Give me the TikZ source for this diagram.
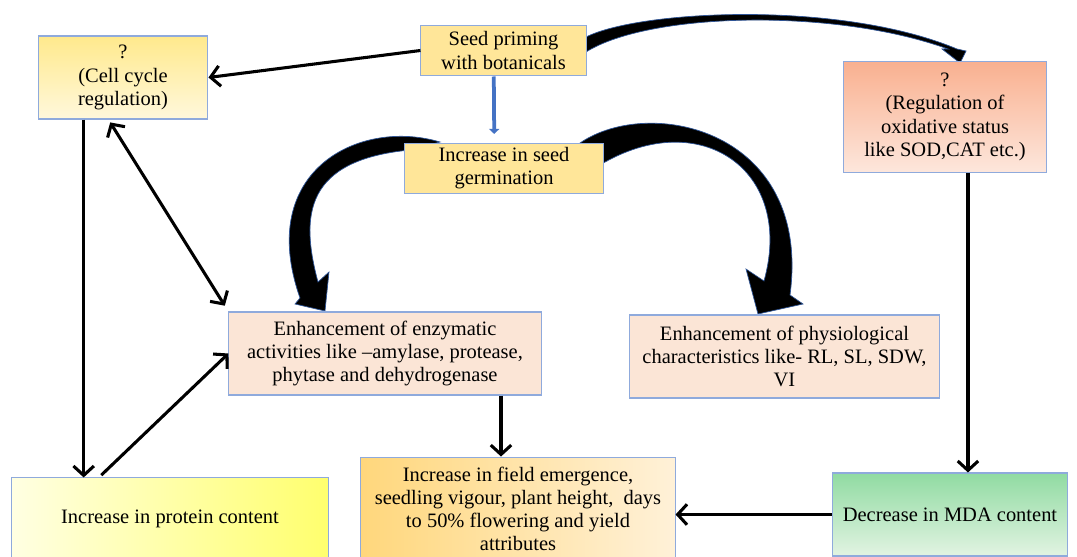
\documentclass[tikz,border=0pt]{standalone}
\usepackage{fontspec}
\setmainfont{Liberation Serif}
\usetikzlibrary{arrows.meta}
\definecolor{boxline}{HTML}{8FAADC}
\definecolor{seedfill}{HTML}{FFE699}
\definecolor{peachfill}{HTML}{FBE5D6}
\definecolor{arrowedge}{HTML}{2F5597}
\definecolor{bluearrow}{HTML}{4472C4}
\definecolor{celltop}{HTML}{FFE98C}
\definecolor{cellbottom}{HTML}{FFF8DC}
\definecolor{oxidtop}{HTML}{F9B090}
\definecolor{oxidbottom}{HTML}{FDE7DC}
\definecolor{protleft}{HTML}{FFFFE2}
\definecolor{protright}{HTML}{FFFF6E}
\definecolor{fieldleft}{HTML}{FFD77C}
\definecolor{fieldright}{HTML}{FFF1D8}
\definecolor{mdatop}{HTML}{90DBA2}
\definecolor{mdabottom}{HTML}{E2F3E2}

\begin{document}
\begin{tikzpicture}[
  x=0.0206cm,
  y=-0.0206cm,
  every node/.style={font=\fontsize{12}{13.6}\selectfont, align=center},
  box/.style={draw=boxline, line width=0.6pt, inner sep=2pt},
  link/.style={line width=1.8pt, -{Straight Barb[length=5.5pt,width=12pt]}},
  twoway/.style={line width=1.8pt,
                 {Straight Barb[length=5.5pt,width=12pt]}-{Straight Barb[length=5.5pt,width=12pt]}},
  bluelink/.style={bluearrow, line width=2.2pt, -{Triangle[length=3pt,width=6pt]}},
  bigarrow/.style={fill=black, draw=arrowedge, line width=0.4pt}
]
  \useasboundingbox (0,0) rectangle (1077,557);

  %% ---- broad curved arrows (drawn first, boxes sit on them) -------------
  %% seed priming -> oxidative status
  \filldraw[bigarrow] (586,37) .. controls (640,10) and (840,0) .. (957,49)
    -- (966,51) -- (960,63) -- (942,49) -- (948,49)
    .. controls (835,8) and (650,12) .. (586,52) -- cycle;

  %% germination -> enzymatic activities
  \filldraw[bigarrow] (440,142) .. controls (360,118) and (255,170) .. (300,298)
    -- (295,304) -- (325,311) -- (329,272) -- (318,282)
    .. controls (300,215) and (305,160) .. (410,150) -- cycle;

  %% germination -> physiological characteristics
  \filldraw[bigarrow] (580,143) .. controls (650,95) and (812,130) .. (790,295)
    -- (803,304) -- (758,314) -- (746,269) -- (764,281)
    .. controls (795,170) and (700,105) .. (600,165) -- cycle;

  %% ---- boxes -------------------------------------------------------------
  \node[box, fill=seedfill, minimum width=3.40cm, minimum height=1.05cm]
    (seed) at (503.5,50.5) {Seed priming\\with botanicals};
  \node[box, fill=seedfill, minimum width=4.08cm, minimum height=1.05cm]
    (germ) at (504,168.5) {Increase in seed\\germination};
  \node[box, top color=celltop, bottom color=cellbottom,
        minimum width=3.50cm, minimum height=1.71cm]
    (cell) at (123,77.5) {?\\(Cell cycle\\regulation)};
  \node[box, top color=oxidtop, bottom color=oxidbottom,
        minimum width=4.20cm, minimum height=2.27cm]
    (oxid) at (945,117) {?\\(Regulation of\\oxidative status\\like SOD,CAT etc.)};
  \node[box, fill=peachfill, minimum width=6.43cm, minimum height=1.71cm]
    (enzyme) at (385,353.5)
    {Enhancement of enzymatic\\activities like –amylase, protease,\\phytase and dehydrogenase};
  \node[box, fill=peachfill, minimum width=6.37cm, minimum height=1.71cm]
    (physio) at (784.5,356.5)
    {Enhancement of physiological\\characteristics like- RL, SL, SDW,\\VI};
  \node[box, left color=protleft, right color=protright,
        minimum width=6.51cm, minimum height=1.69cm]
    (protein) at (170,519) {Increase in protein content};
  \node[box, left color=fieldleft, right color=fieldright,
        minimum width=6.47cm, minimum height=2.14cm]
    (field) at (518,509)
    {Increase in field emergence,\\seedling vigour, plant height,\ \ days\\to 50\% flowering and yield\\attributes};
  \node[box, top color=mdatop, bottom color=mdabottom,
        minimum width=4.86cm, minimum height=1.71cm]
    (mda) at (950,514.5) {Decrease in MDA content};

  %% ---- connectors --------------------------------------------------------
  \draw[link] (seed.west) -- (cell.east);
  \draw[bluelink, shorten >=5pt] ([xshift=-0.2cm]seed.south) -- ([xshift=-0.2cm]germ.north);

  \coordinate (celldown) at ([xshift=0.95cm]cell.south west);
  \draw[link] (celldown) -- (celldown |- protein.north);
  \draw[twoway, shorten <=2pt, shorten >=4pt] ([xshift=1.46cm]cell.south west) -- (enzyme.north west);
  \draw[link, shorten <=2pt] ([xshift=1.8cm]protein.north west) -- (enzyme.west);

  \coordinate (enzdown) at ([xshift=-0.35cm]field.north);
  \draw[link] (enzdown |- enzyme.south) -- (enzdown);
  \coordinate (oxdown) at ([xshift=0.37cm]mda.north);
  \draw[link] (oxdown |- oxid.south) -- (oxdown);
  \draw[link] (mda.west) -- (mda.west -| field.east);
\end{tikzpicture}
\end{document}
